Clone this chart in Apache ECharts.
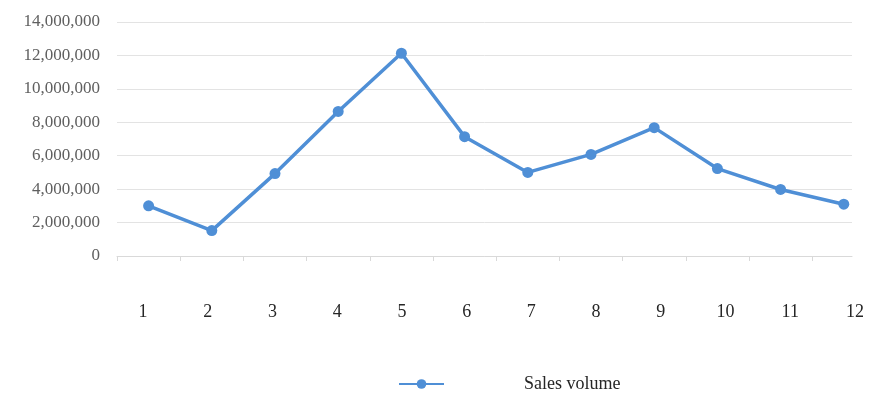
<!DOCTYPE html>
<html>
<head>
<meta charset="utf-8">
<script src="https://cdn.jsdelivr.net/npm/echarts@6/dist/echarts.min.js"></script>
<style>
html,body{margin:0;padding:0;background:#fff;}
#chart{width:870px;height:396px;}
</style>
</head>
<body>
<div id="chart"></div>
<script>
const categories = ['1','2','3','4','5','6','7','8','9','10','11','12'];
const salesVolume = [3000000, 1520000, 4930000, 8650000, 12130000, 7140000, 5000000, 6080000, 7680000, 5230000, 3980000, 3100000];
const seriesName = 'Sales volume';
const yMin = 0, yMax = 14000000, yStep = 2000000;

const chart = echarts.init(document.getElementById('chart'));
const serif = '"Liberation Serif", "DejaVu Serif", serif';
const tickVals = categories.map((c, i) => i + 0.5);

chart.setOption({
  animation: false,
  backgroundColor: '#ffffff',
  grid: [
    {left: 117, right: 18, top: 22, bottom: 140},
    {left: 143, right: 15, top: 22, bottom: 140}
  ],
  xAxis: [
    {
      type: 'value', gridIndex: 0, min: 0.5, max: 12.13,
      splitLine: {show: false},
      axisLine: {show: true, lineStyle: {color: '#d9d9d9', width: 1}},
      axisTick: {show: true, customValues: tickVals, length: 5, lineStyle: {color: '#d9d9d9'}},
      axisLabel: {show: false}
    },
    {
      type: 'category', gridIndex: 1, data: categories, boundaryGap: false,
      axisLine: {show: false}, axisTick: {show: false}, splitLine: {show: false},
      axisLabel: {margin: 47, color: '#262626', fontSize: 18, fontFamily: serif}
    }
  ],
  yAxis: [
    {
      type: 'value', gridIndex: 0, min: yMin, max: yMax, interval: yStep,
      axisLine: {show: false}, axisTick: {show: false},
      splitLine: {lineStyle: {color: '#e3e3e3', width: 1}},
      axisLabel: {
        margin: 17, color: '#5f5f5f', fontSize: 17, fontFamily: serif,
        formatter: v => v.toLocaleString('en-US')
      }
    },
    {type: 'value', gridIndex: 1, show: false, min: yMin, max: yMax}
  ],
  legend: {
    left: 393, top: 370,
    itemWidth: 45, itemHeight: 12,
    data: [seriesName],
    textStyle: {color: '#262626', fontSize: 18, fontFamily: serif, padding: [0, 0, 0, 75]}
  },
  series: [{
    name: seriesName,
    type: 'line',
    xAxisIndex: 0, yAxisIndex: 0,
    data: categories.map((c, i) => [Number(c), salesVolume[i]]),
    symbol: 'circle', symbolSize: 11,
    lineStyle: {color: '#4f8fd6', width: 3.5},
    itemStyle: {color: '#4f8fd6'}
  }]
});
</script>
</body>
</html>
